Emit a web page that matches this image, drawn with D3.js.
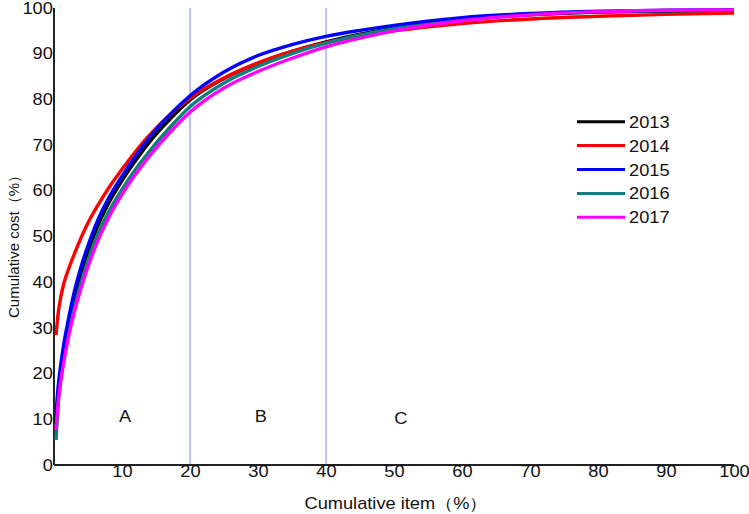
<!DOCTYPE html>
<html><head><meta charset="utf-8">
<script src="https://cdn.jsdelivr.net/npm/d3@7"></script>
<style>body{margin:0;background:#fff}svg{display:block}text{font-family:"Liberation Sans",Arial,sans-serif}</style>
</head><body><svg id="c" width="749" height="514"></svg>
<script>
const xs = [0.3,0.6,1,1.5,2,3,4,5,6,7,8,10,12,14,17,20,25,30,35,40,45,50,60,70,80,90,100];
const s2013 = [9,15,20.5,25.5,29.5,36.5,42,46.7,50.7,54.2,57.2,62.2,66.6,70.6,75.6,79.9,84.6,87.9,90.5,92.6,94.3,95.6,97.5,98.5,99.1,99.3,99.4];
const s2014 = [28.4,33,36.8,40,42.3,46.2,49.8,53,55.7,58.2,60.5,64.7,68.6,72.1,76.6,80.3,84.7,88,90.5,92.4,93.9,95,96.6,97.6,98.2,98.6,98.9];
const s2015 = [11.4,17,22,27,31,38,43.5,48,52,55.4,58.3,63.2,67.6,71.6,76.6,80.8,86,89.6,92,93.8,95.1,96.2,97.9,98.8,99.3,99.5,99.6];
const s2016 = [5.5,13,18.5,23.5,27.5,34.5,40,44.8,48.8,52.3,55.3,60.3,64.7,68.6,73.8,78.4,83.6,87.2,90,92.3,94.1,95.5,97.5,98.6,99.2,99.4,99.5];
const s2017 = [7.7,13.5,18.5,23,27,33.5,38.8,43.4,47.4,50.9,54,59.2,63.6,67.5,72.7,77.2,82.5,86.1,89,91.5,93.4,95,97.2,98.5,99.2,99.5,99.6];
const seriesNames = ["2013","2014","2015","2016","2017"];
const seriesColors = ["#000000","#ff0000","#0000ff","#0e7f7a","#ff00ff"];
const seriesData = [s2013,s2014,s2015,s2016,s2017];
const drawOrder = [0,1,3,2,4];
const xTicks = [10,20,30,40,50,60,70,80,90,100];
const yTicks = [0,10,20,30,40,50,60,70,80,90,100];
const vLines = [20,40];
const zones = [{t:"A",x:10.45,y:9.5},{t:"B",x:30.4,y:9.5},{t:"C",x:51,y:9.0}];

const svg = d3.select("#c");
const x = d3.scaleLinear().domain([0,100]).range([54,734]);
const y = d3.scaleLinear().domain([0,100]).range([465,8]);
const SX = 1.14;

// vertical zone lines
svg.selectAll(".vl").data(vLines).enter().append("line")
  .attr("x1",d=>x(d)).attr("x2",d=>x(d)).attr("y1",y(100)).attr("y2",y(0))
  .attr("stroke","#a8acff").attr("stroke-width",1.5);

// axes
const gx = svg.append("g").attr("transform",`translate(0,${y(0)})`)
  .call(d3.axisBottom(x).tickValues(xTicks).tickSize(0).tickPadding(1));
gx.select(".domain").attr("stroke","#222").attr("stroke-width",2).attr("d",`M${x(0)},0H${x(100)}`);
gx.selectAll("text").attr("font-size",16).attr("fill","#111").attr("transform",`scale(${SX},1)`)
  .style("font-family","Liberation Sans, Arial, sans-serif");

const gy = svg.append("g").attr("transform",`translate(${x(0)},0)`)
  .call(d3.axisLeft(y).tickValues(yTicks).tickSize(0).tickPadding(1));
gy.select(".domain").attr("stroke","#222").attr("stroke-width",2).attr("d",`M0,${y(100)}V${y(0)}`);
gy.selectAll("text").attr("font-size",16).attr("fill","#111").attr("transform",`scale(${SX},1)`)
  .style("font-family","Liberation Sans, Arial, sans-serif");

// curves
const line = d3.line().x((d,i)=>x(xs[i])).y(d=>y(d)).curve(d3.curveMonotoneX);
drawOrder.forEach(k=>{
  svg.append("path").datum(seriesData[k]).attr("d",line)
    .attr("fill","none").attr("stroke",seriesColors[k]).attr("stroke-width",3.4)
    .attr("stroke-linejoin","round");
});

// zone labels
svg.selectAll(".zl").data(zones).enter().append("text")
  .attr("transform",d=>`translate(${x(d.x)},${y(d.y)}) scale(${SX},1)`).attr("text-anchor","middle")
  .attr("font-size",16).attr("fill","#111").text(d=>d.t);

// legend
const lg = svg.append("g");
seriesNames.forEach((n,i)=>{
  const yy = 121.7 + i*23.9;
  lg.append("line").attr("x1",577).attr("x2",625).attr("y1",yy).attr("y2",yy)
    .attr("stroke",seriesColors[i]).attr("stroke-width",3);
  lg.append("text").attr("transform",`translate(629,${yy+6}) scale(${SX},1)`)
    .attr("font-size",16).attr("fill","#111").text(n);
});

// axis titles
svg.append("text").attr("transform",`translate(396,509) scale(${SX},1)`).attr("text-anchor","middle")
  .attr("font-size",16).attr("fill","#111").text("Cumulative item（%）");
svg.append("text").attr("transform","translate(19,243) rotate(-90)").attr("text-anchor","middle")
  .attr("font-size",15).attr("fill","#111").text("Cumulative cost（%）");
</script></body></html>
